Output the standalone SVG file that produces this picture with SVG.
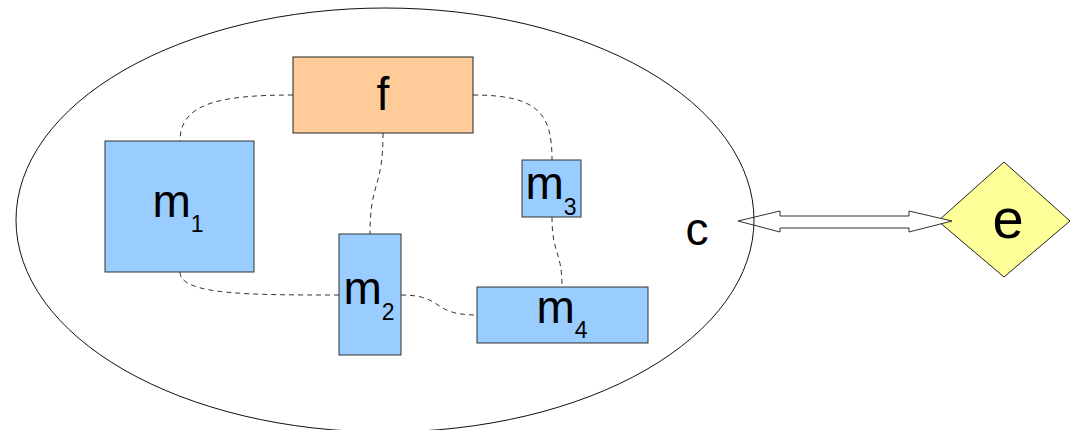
<svg xmlns="http://www.w3.org/2000/svg" width="1071" height="430" viewBox="0 0 1071 430">
  <style>
    .lbl { font-family: "Liberation Sans", Arial, sans-serif; font-size: 46px; fill: #000; }
    .big { font-size: 56px; }
    .sub { font-size: 23px; }
    .mod { fill: #99ccff; stroke: #333; stroke-width: 1; }
    .fun { fill: #ffcc99; stroke: #222; stroke-width: 1; }
    .env { fill: #ffff99; stroke: #222; stroke-width: 1; }
    .link { fill: none; stroke: #333; stroke-width: 1; stroke-dasharray: 5 4; }
    .bus { fill: #fff; stroke: #333; stroke-width: 1; }
  </style>
  <rect width="1071" height="430" fill="#fff"/>

  <!-- environment -->
  <g id="e">
    <polygon class="env" points="938,221 1004,162 1070,221 1004,277"/>
    <text class="lbl big" x="1008" y="238" text-anchor="middle">e</text>
  </g>

  <!-- bidirectional block arrow and dashed module links -->
  <g id="connectors">
    <polygon class="bus" points="738,221 780,211 780,216 909,216 909,211 952,221 909,232 909,228 780,228 780,232"/>
    <path class="link" d="M293,95 C215,95 180,105 180,141"/>
    <path class="link" d="M383,133 C383,190 370,180 370,234"/>
    <path class="link" d="M473,95 C540,95 552,115 552,160"/>
    <path class="link" d="M552,217 C552,255 562,250 562,287"/>
    <path class="link" d="M180,272 C180,295 250,295 339,295"/>
    <path class="link" d="M401,295 C445,295 430,315 477,315"/>
  </g>

  <!-- component boundary -->
  <g id="c">
    <ellipse cx="385" cy="220" rx="369" ry="212" fill="none" stroke="#111" stroke-width="1"/>
    <text class="lbl" x="697" y="245" text-anchor="middle">c</text>
  </g>

  <g id="f">
    <rect class="fun" x="293" y="57" width="180" height="76"/>
    <text class="lbl" x="383" y="110" text-anchor="middle">f</text>
  </g>

  <g id="m1">
    <rect class="mod" x="105" y="141" width="149" height="131"/>
    <text class="lbl" x="178" y="217" text-anchor="middle">m<tspan class="sub" dy="15">1</tspan></text>
  </g>

  <g id="m2">
    <rect class="mod" x="339" y="234" width="62" height="121"/>
    <text class="lbl" x="369" y="304" text-anchor="middle">m<tspan class="sub" dy="16">2</tspan></text>
  </g>

  <g id="m3">
    <rect class="mod" x="522" y="160" width="59" height="57"/>
    <text class="lbl" x="551" y="199" text-anchor="middle">m<tspan class="sub" dy="16">3</tspan></text>
  </g>

  <g id="m4">
    <rect class="mod" x="477" y="287" width="171" height="56"/>
    <text class="lbl" x="562" y="323" text-anchor="middle">m<tspan class="sub" dy="15">4</tspan></text>
  </g>
</svg>
